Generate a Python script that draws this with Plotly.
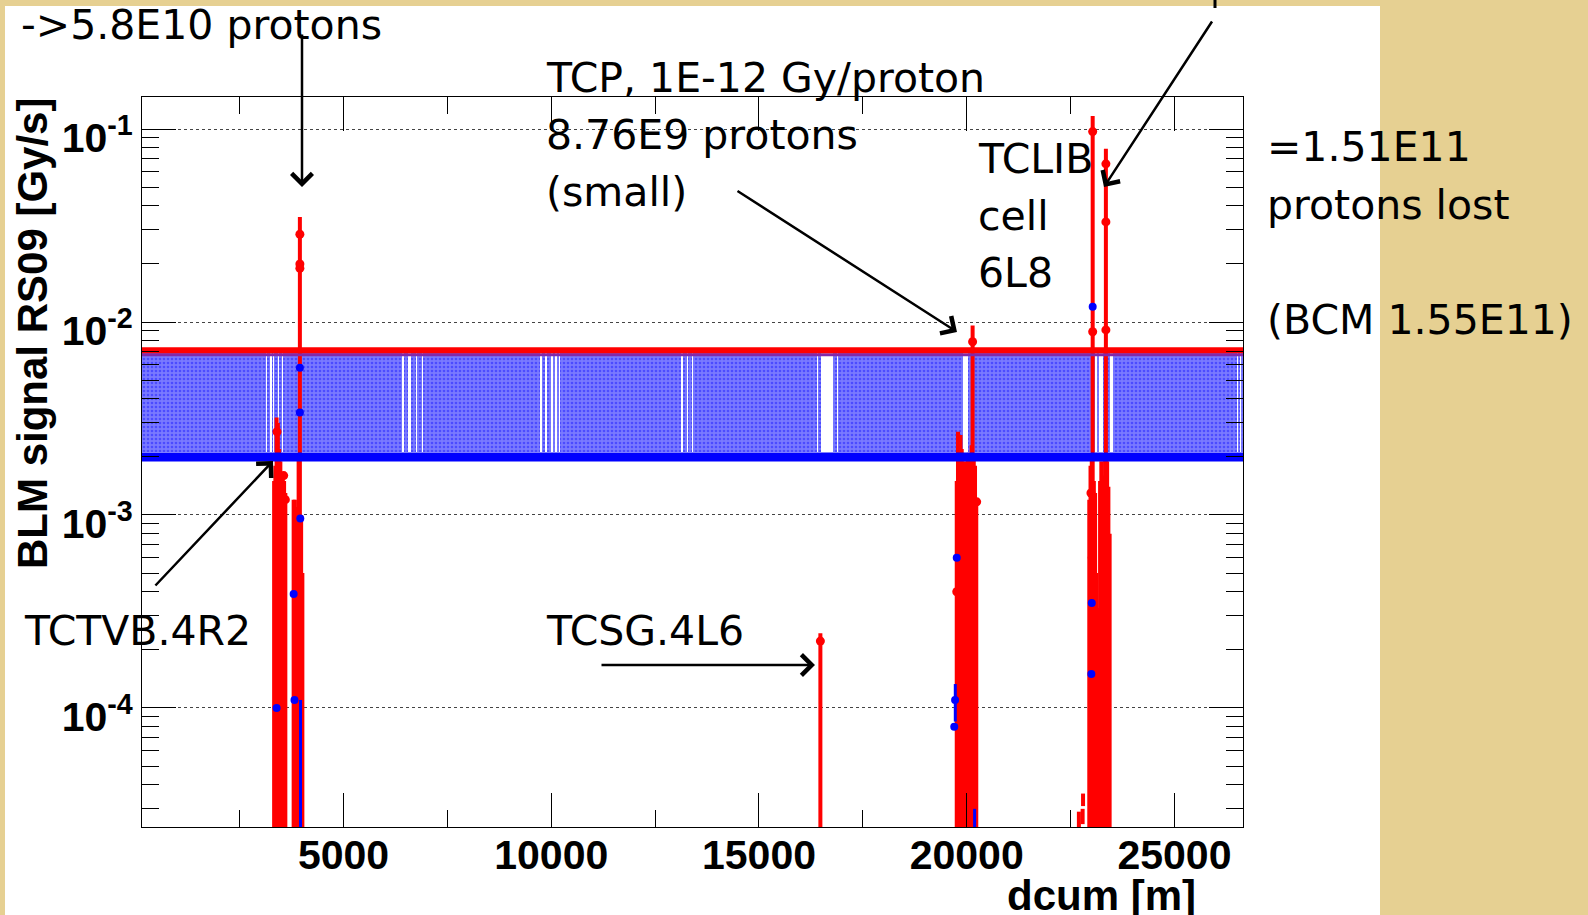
import plotly.graph_objects as go

# ---------------- data ----------------
x_range = [150, 26650]
y_log_range = [-4.617, -0.834]
x_tick_vals = [5000, 10000, 15000, 20000, 25000]
x_tick_text = ["5000", "10000", "15000", "20000", "25000"]
x_minor_vals = [2500, 7500, 12500, 17500, 22500]
y_tick_vals = [1e-4, 1e-3, 1e-2, 1e-1]
y_tick_text = ["10<sup>-4</sup>", "10<sup>-3</sup>", "10<sup>-2</sup>", "10<sup>-1</sup>"]
y_minor_mantissa = [2, 3, 4, 5, 6, 7, 8, 9]
y_minor_decades = [1e-5, 1e-4, 1e-3, 1e-2, 1e-1]

# blue threshold band and its edge lines [Gy/s]
band_lo = 2.11e-3
band_hi = 6.89e-3
band_red_level = 7.14e-3
band_purple_level = 6.76e-3
band_blue_level = 2.0e-3
# gaps in the band (no monitors) [m]
gap_start = [3140, 3236, 3300, 3434, 3515, 6417, 6562, 6740, 6891, 9740, 9860, 9990, 10100, 10180,
             13130, 13260, 13390, 16400, 16490, 16870, 19917, 23085, 23188, 23448, 26500, 26580]
gap_end = [3170, 3268, 3330, 3458, 3553, 6458, 6620, 6778, 6922, 9780, 9900, 10040, 10130, 10210,
           13170, 13300, 13420, 16420, 16790, 16895, 20037, 23126, 23270, 23513, 26520, 26600]

# red loss spikes: position [m] and upper end of error bar [Gy/s]
spike_x = [3330, 3360, 3390, 3420, 3450, 3480, 3510, 3540, 3570, 3600,
           3800, 3830, 3860, 3890, 3920, 3950, 3980, 4010,
           16478,
           19760, 19790, 19820, 19850, 19880, 19910, 19940, 19970, 20000, 20030, 20060, 20090,
           20120, 20142, 20170, 20200, 20230,
           22950, 22980, 23010, 23032, 23060, 23090, 23120, 23150, 23180, 23210, 23240, 23270,
           23300, 23330, 23350, 23380, 23410, 23440]
spike_top = [1.5e-3, 1.8e-3, 3.2e-3, 3.0e-3, 2.2e-3, 1.9e-3, 1.6e-3, 1.6e-3, 1.5e-3, 1.3e-3,
             1.2e-3, 1.2e-3, 1.0e-3, 1.1e-3, 2.0e-3, 3.5e-2, 1.0e-3, 5e-4,
             2.44e-4,
             1.5e-3, 2.7e-3, 2.4e-3, 2.6e-3, 2.2e-3, 1.8e-3, 1.9e-3, 1.6e-3, 1.7e-3, 2.0e-3, 2.1e-3, 1.9e-3,
             2.3e-3, 9.6e-3, 2.0e-3, 1.8e-3, 1.17e-3,
             1.2e-3, 1.8e-3, 2.0e-3, 0.117, 1.5e-3, 1.3e-3, 5e-4, 3.3e-4, 3.3e-4, 1.5e-3, 1.9e-3, 1.3e-3,
             1.6e-3, 2.0e-3, 0.079, 1.9e-3, 1.4e-3, 8e-4]
spike_bottom = 1e-5

# short red error bars near the bottom
dash_x = [22700, 22790, 22800]
dash_lo = [2.0e-5, 2.5e-5, 3.1e-5]
dash_hi = [2.9e-5, 3.0e-5, 3.6e-5]

# red measured points
red_pt_x = [3400, 3560, 3950, 3950, 3950, 3420, 3600, 16478, 20142, 20240, 19760, 19850,
            23032, 23032, 23350, 23350, 23350, 22990, 23020, 23300]
red_pt_y = [2.7e-3, 1.6e-3, 2.85e-2, 2.0e-2, 1.9e-2, 2.8e-4, 1.2e-3, 2.22e-4, 7.9e-3, 1.17e-3, 4e-4, 2.2e-4,
            0.097, 8.9e-3, 0.066, 0.033, 9.1e-3, 1.3e-3, 6e-4, 1.2e-3]

# blue points and short blue bars
blue_pt_x = [3950, 3950, 3960, 3390, 3800, 3820, 23032, 19720, 19700, 23000, 23010, 19760]
blue_pt_y = [5.8e-3, 3.4e-3, 9.6e-4, 1e-4, 3.9e-4, 1.1e-4, 1.2e-2, 1.1e-4, 8e-5, 1.5e-4, 3.5e-4, 6e-4]
blue_bar_x = [3965, 19725, 20190]
blue_bar_lo = [1e-5, 8.5e-5, 1e-5]
blue_bar_hi = [1.1e-4, 1.33e-4, 3.0e-5]

# ---------------- geometry helpers ----------------
W, H = 1588, 915
PL, PR, PT, PB = 142, 1243, 97, 827


def px(xp):
    return (xp - PL) / (PR - PL)


def py(yp):
    return (PB - yp) / (PB - PT)


def vsegs(xs, lo, hi):
    X, Y = [], []
    for i, x in enumerate(xs):
        l = lo[i] if isinstance(lo, list) else lo
        h = hi[i] if isinstance(hi, list) else hi
        X += [x, x, None]
        Y += [l, h, None]
    return X, Y


fig = go.Figure()

# red spikes (drawn below the semi transparent band)
sx, sy = vsegs(spike_x, spike_bottom, spike_top)
fig.add_trace(go.Scatter(x=sx, y=sy, mode="lines", line=dict(color="#ff0000", width=4),
                         hoverinfo="skip", showlegend=False))
dx, dy = vsegs(dash_x, dash_lo, dash_hi)
fig.add_trace(go.Scatter(x=dx, y=dy, mode="lines", line=dict(color="#ff0000", width=4),
                         hoverinfo="skip", showlegend=False))

# band segments between gaps
seg_a, seg_b = [], []
start = x_range[0] - 300
for s, e in zip(gap_start, gap_end):
    seg_a.append(start)
    seg_b.append(s)
    start = e
seg_a.append(start)
seg_b.append(x_range[1] + 300)
fig.add_trace(go.Bar(
    x=[(a + b) / 2 for a, b in zip(seg_a, seg_b)],
    width=[b - a for a, b in zip(seg_a, seg_b)],
    base=[band_lo] * len(seg_a),
    y=[band_hi - band_lo] * len(seg_a),
    marker=dict(color="rgba(0,0,255,0.52)", line=dict(width=0),
                pattern=dict(shape=".", fgcolor="rgba(0,0,255,0.75)", size=4, solidity=0.35,
                             fillmode="overlay")),
    hoverinfo="skip", showlegend=False))

# band edges
fig.add_trace(go.Scatter(x=[x_range[0] - 300, x_range[1] + 300], y=[band_purple_level] * 2, mode="lines",
                         line=dict(color="rgb(130,40,170)", width=3), hoverinfo="skip", showlegend=False))
fig.add_trace(go.Scatter(x=[x_range[0] - 300, x_range[1] + 300], y=[band_red_level] * 2, mode="lines",
                         line=dict(color="#ff0000", width=6), hoverinfo="skip", showlegend=False))
fig.add_trace(go.Scatter(x=[x_range[0] - 300, x_range[1] + 300], y=[band_blue_level] * 2, mode="lines",
                         line=dict(color="#0000ff", width=9), hoverinfo="skip", showlegend=False))

# blue bars and points
bx, by = vsegs(blue_bar_x, blue_bar_lo, blue_bar_hi)
fig.add_trace(go.Scatter(x=bx, y=by, mode="lines", line=dict(color="#0000ff", width=3),
                         hoverinfo="skip", showlegend=False))
fig.add_trace(go.Scatter(x=blue_pt_x, y=blue_pt_y, mode="markers",
                         marker=dict(color="#0000ff", size=8), hoverinfo="skip", showlegend=False))
# red points
fig.add_trace(go.Scatter(x=red_pt_x, y=red_pt_y, mode="markers",
                         marker=dict(color="#ff0000", size=9), hoverinfo="skip", showlegend=False))

# ---------------- background ----------------
TAN = "#e6d092"
fig.add_shape(type="rect", xref="paper", yref="paper",
              x0=px(5), x1=px(1380), y0=py(915), y1=py(6),
              fillcolor="white", line=dict(width=0), layer="below")
fig.add_shape(type="line", xref="paper", yref="paper",
              x0=px(1215), x1=px(1215), y0=py(0), y1=py(8),
              line=dict(color="black", width=3))

# ---------------- text ----------------
TXT = dict(family="DejaVu Sans", size=41, color="black")
texts = [
    ("->5.8E10 protons", 19, 25),
    ("TCP, 1E-12 Gy/proton", 544, 78),
    ("8.76E9 protons", 544, 135),
    ("(small)", 544, 192),
    ("TCLIB", 976, 159),
    ("cell", 976, 216),
    ("6L8", 976, 273),
    ("=1.51E11", 1265, 147),
    ("protons lost", 1265, 205),
    ("(BCM 1.55E11)", 1265, 320),
    ("TCTVB.4R2", 22, 631),
    ("TCSG.4L6", 544, 631),
]
for t, xp, yp in texts:
    fig.add_annotation(text=t, xref="paper", yref="paper", x=px(xp), y=py(yp),
                       xanchor="left", yanchor="middle", showarrow=False, font=TXT)

arrows = [  # tail (x,y) -> tip (x,y) in pixels
    ((302, 33), (302, 187)),
    ((736, 190), (957, 332)),
    ((1213, 20), (1104, 187)),
    ((154, 587), (273, 461)),
    ((600, 665), (815, 665)),
]
for (tx, ty), (hx, hy) in arrows:
    fig.add_annotation(text="", xref="paper", yref="paper", x=px(hx), y=py(hy),
                       ax=tx - hx, ay=ty - hy, showarrow=True, arrowhead=4, arrowsize=1.6,
                       arrowwidth=2.5, arrowcolor="black", standoff=0, startstandoff=0)

fig.add_annotation(text="<b>BLM signal RS09 [Gy/s]</b>", xref="paper", yref="paper",
                   x=px(32), y=py(334), textangle=-90, showarrow=False,
                   xanchor="center", yanchor="middle",
                   font=dict(family="Liberation Sans", size=42, color="black"))
fig.add_annotation(text="<b>dcum [m]</b>", xref="paper", yref="paper",
                   x=px(1198), y=py(895), showarrow=False, xanchor="right", yanchor="middle",
                   font=dict(family="Liberation Sans", size=42, color="black"))

# ---------------- axes ----------------
tickfont = dict(family="Liberation Sans", size=41, color="black", weight="bold")
fig.update_xaxes(range=x_range, tickmode="array", tickvals=x_tick_vals, ticktext=x_tick_text,
                 ticks="inside", ticklen=34, tickwidth=1, tickcolor="black", ticklabelstandoff=-8,
                 minor=dict(tickmode="array", tickvals=x_minor_vals, ticks="inside", ticklen=17,
                            tickwidth=1, tickcolor="black", showgrid=False),
                 showline=True, linecolor="black", linewidth=1, mirror="ticks",
                 showgrid=False, zeroline=False, tickfont=tickfont)
fig.update_yaxes(type="log", range=y_log_range, tickmode="array", tickvals=y_tick_vals,
                 ticktext=y_tick_text, ticks="inside", ticklen=34, tickwidth=1, tickcolor="black",
                 ticklabelshift=9,
                 minor=dict(tickmode="array",
                            tickvals=[m * d for d in y_minor_decades for m in y_minor_mantissa],
                            ticks="inside", ticklen=17, tickwidth=1, tickcolor="black", showgrid=False),
                 showline=True, linecolor="black", linewidth=1, mirror="ticks",
                 showgrid=True, gridcolor="#444", griddash="dot", gridwidth=1,
                 zeroline=False, tickfont=tickfont)

fig.update_layout(width=W, height=H, autosize=False,
                  margin=dict(l=PL, r=W - PR, t=PT, b=H - PB, pad=0),
                  paper_bgcolor=TAN, plot_bgcolor="white", barmode="overlay", bargap=0,
                  showlegend=False)

fig.write_html("out.html")
